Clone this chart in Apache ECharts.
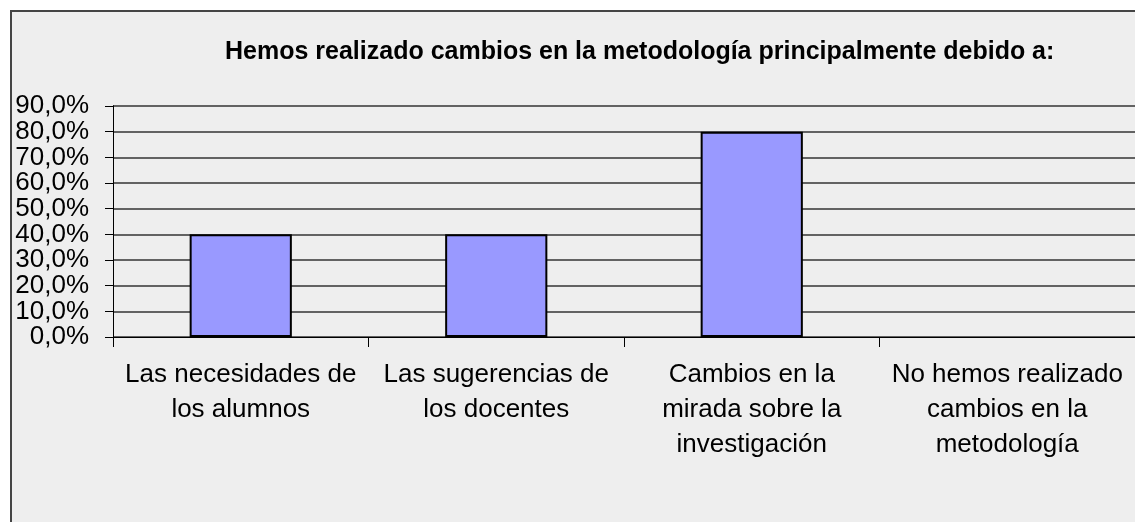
<!DOCTYPE html>
<html>
<head>
<meta charset="utf-8">
<script src="https://cdn.jsdelivr.net/npm/echarts@6/dist/echarts.min.js"></script>
<style>
  html, body { margin: 0; padding: 0; background: #fff; }
  #chart { width: 1135px; height: 522px; }
</style>
</head>
<body>
<div id="chart"></div>
<script>
const titleText = 'Hemos realizado cambios en la metodología principalmente debido a:';
const categories = [
  'Las necesidades de\nlos alumnos',
  'Las sugerencias de\nlos docentes',
  'Cambios en la\nmirada sobre la\ninvestigación',
  'No hemos realizado\ncambios en la\nmetodología'
];
const values = [40, 40, 80, 0];
const yMax = 90;
const yStep = 10;

const chart = echarts.init(document.getElementById('chart'));

// empty bars get no outline, like the original
const barData = values.map(v => v === 0
  ? { value: v, itemStyle: { borderWidth: 0 } }
  : v);

const pct = v => v.toFixed(1).replace('.', ',') + '%';

// the labels overlap a bit, so echarts drops some of them;
// split them over two identical axes (even / odd steps)
function makeYAxis(even) {
  return {
    type: 'value',
    position: 'left',
    offset: 0,
    min: 0,
    max: yMax,
    interval: yStep,
    axisLine: { show: true, onZero: false, lineStyle: { color: '#000', width: 1 } },
    axisTick: { show: true, length: 8, lineStyle: { color: '#000', width: 1 } },
    splitLine: { show: even, lineStyle: { color: '#333', width: 1.5 } },
    axisLabel: {
      margin: 24,
      fontSize: 26,
      color: '#000',
      showMinLabel: even,
      showMaxLabel: !even,
      formatter: v => (Math.round(v / yStep) % 2 === 0) === even ? pct(v) : ''
    }
  };
}

const option = {
  backgroundColor: '#fff',
  animation: false,
  textStyle: { fontFamily: 'Liberation Sans, Arial, sans-serif', color: '#000' },
  graphic: [{
    type: 'rect',
    silent: true,
    z: -10,
    shape: { x: 11, y: 11, width: 1200, height: 600 },
    style: { fill: '#eeeeee', stroke: '#444', lineWidth: 2 }
  }],
  title: {
    text: titleText,
    left: 220,
    top: 35,
    textStyle: { fontSize: 25, fontWeight: 'bold', color: '#000', fontFamily: 'Liberation Sans, Arial, sans-serif' }
  },
  grid: { left: 113, top: 106, width: 1028, height: 231, containLabel: false },
  xAxis: {
    type: 'category',
    data: categories,
    axisLine: { show: true, lineStyle: { color: '#000', width: 1 } },
    axisTick: { show: true, length: 10, lineStyle: { color: '#000', width: 1 } },
    axisLabel: {
      interval: 0,
      fontSize: 26,
      lineHeight: 35,
      margin: 20,
      color: '#000',
      align: 'center'
    }
  },
  yAxis: [makeYAxis(true), makeYAxis(false)],
  series: [{
    type: 'bar',
    yAxisIndex: 0,
    data: barData,
    barWidth: '40%',
    itemStyle: { color: '#9999ff', borderColor: '#000', borderWidth: 2 }
  }]
};

chart.setOption(option);
</script>
</body>
</html>
